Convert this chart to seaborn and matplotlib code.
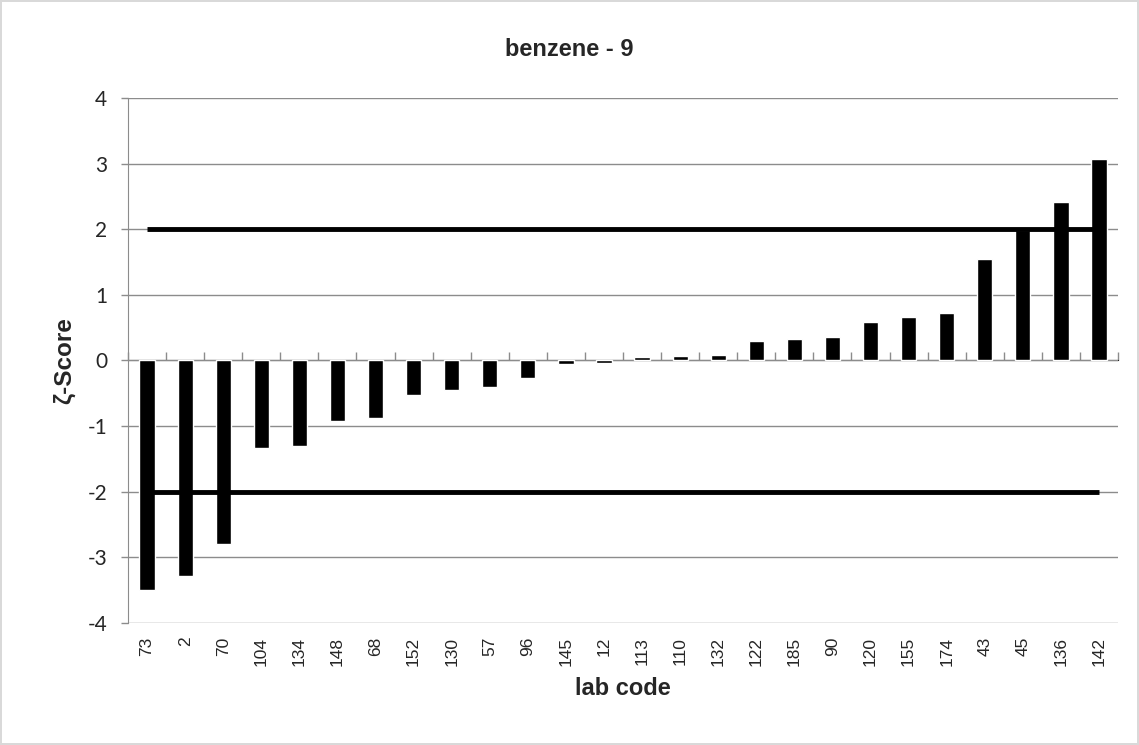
import pandas as pd
import numpy as np
import matplotlib.pyplot as plt
import seaborn as sns

# lab codes sorted by zeta score
labs = ['73', '2', '70', '104', '134', '148', '68', '152', '130', '57', '96', '145', '12',
        '113', '110', '132', '122', '185', '90', '120', '155', '174', '43', '45', '136', '142']
scores = [-3.49, -3.29, -2.80, -1.34, -1.30, -0.93, -0.87, -0.53, -0.45, -0.41, -0.27, -0.05, -0.035,
          0.056, 0.07, 0.08, 0.29, 0.33, 0.35, 0.58, 0.66, 0.72, 1.55, 1.99, 2.42, 3.07]
limits = [2, -2]
yticks = [-4, -3, -2, -1, 0, 1, 2, 3, 4]

df = pd.DataFrame({'lab': labs, 'score': scores})

sns.set_style('white')
plt.rcParams['font.family'] = ['Lato', 'DejaVu Sans']

fig = plt.figure(figsize=(11.39, 7.45), dpi=100)
fig.patch.set_edgecolor('#d9d9d9')
fig.patch.set_linewidth(1.5)
ax = fig.add_axes([0.1124, 0.1638, 0.8692, 0.7047])

sns.barplot(data=df, x='lab', y='score', color='black', width=0.4, saturation=1, ax=ax, zorder=3)

# +/-2 limit lines from first to last lab
for lim in limits:
    ax.plot([0, len(labs) - 1], [lim, lim], color='black', lw=3.5, zorder=4, solid_capstyle='butt')

ax.set_ylim(-4, 4)
ax.set_xlim(-0.5, len(labs) - 0.5)
ax.set_yticks(yticks)
ax.set_yticklabels([str(t) for t in yticks], fontsize=15)
ax.grid(axis='y', color='#8c8c8c', lw=1, zorder=0)
ax.tick_params(axis='y', left=True, length=5, color='#8c8c8c', width=1, pad=10)

ax.set_xticks(range(len(labs)))
ax.set_xticklabels(labs, rotation=90, fontsize=12.5, family='Liberation Sans')
ax.tick_params(axis='x', length=0, pad=10)

for s in ['top', 'right', 'bottom']:
    ax.spines[s].set_visible(False)
ax.spines['left'].set_color('#8c8c8c')

# category tick marks on the zero line
sec = ax.secondary_xaxis(0.5)
sec.set_xticks(np.arange(len(labs) + 1) - 0.5)
sec.set_xticklabels([])
sec.tick_params(axis='x', length=6, color='#8c8c8c', width=1, direction='out')
sec.spines['bottom'].set_color('#8c8c8c')

bold = ['Liberation Sans', 'DejaVu Sans']
ax.set_xlabel('lab code', fontsize=17, fontweight='bold', family=bold, labelpad=8)
ax.set_ylabel('ζ-Score', fontsize=17.5, fontweight='bold', family=bold, labelpad=8)
fig.text(0.5, 0.933, 'benzene - 9', ha='center', va='center', fontsize=17,
         fontweight='bold', family=bold)

fig.savefig('out.png', dpi=100, edgecolor=fig.get_edgecolor())
